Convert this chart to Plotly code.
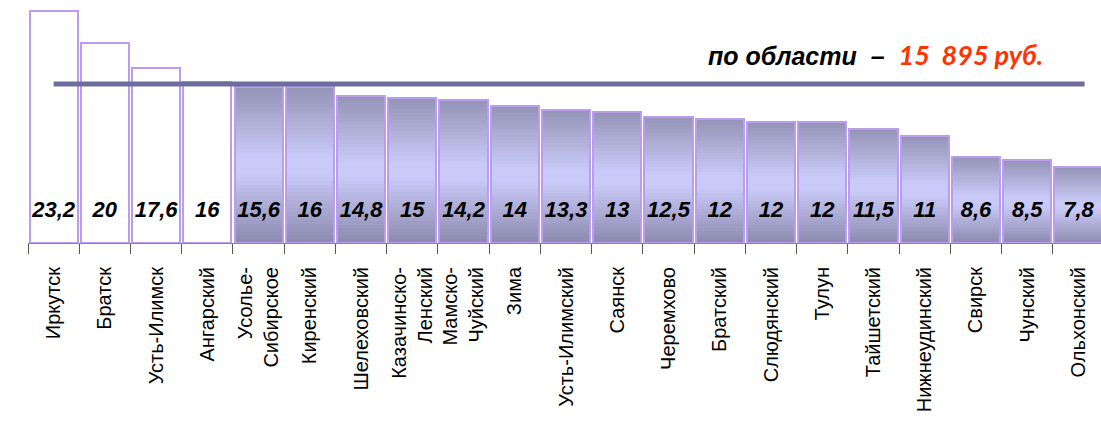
import plotly.graph_objects as go

categories = ["Иркутск", "Братск", "Усть-Илимск", "Ангарский", "Усолье-<br>Сибирское",
              "Киренский", "Шелеховский", "Казачинско-<br>Ленский", "Мамско-<br>Чуйский", "Зима",
              "Усть-Илимский", "Саянск", "Черемхово", "Братский", "Слюдянский", "Тулун",
              "Тайшетский", "Нижнеудинский", "Свирск", "Чунский", "Ольхонский"]
values = [23.2, 20.0, 17.5, 16.1, 15.6, 15.6, 14.7, 14.5, 14.3, 13.7, 13.3, 13.1,
          12.6, 12.4, 12.1, 12.1, 11.4, 10.7, 8.6, 8.3, 7.6]
labels = ["23,2", "20", "17,6", "16", "15,6", "16", "14,8", "15", "14,2", "14", "13,3",
          "13", "12,5", "12", "12", "12", "11,5", "11", "8,6", "8,5", "7,8"]
white_count = 4
region_avg = 15.895

W = 0.94
N = 40

def lerp(c1, c2, t):
    return tuple(int(round(a + (b - a) * t)) for a, b in zip(c1, c2))

stops = [(0.0, (0x8a, 0x8a, 0xae)), (0.45, (0xca, 0xca, 0xf8)), (0.55, (0xca, 0xca, 0xf8)),
         (1.0, (0x93, 0x93, 0xb6))]

def cscale(t):
    for (t0, c0), (t1, c1) in zip(stops[:-1], stops[1:]):
        if t0 <= t <= t1:
            return "rgb(%d,%d,%d)" % lerp(c0, c1, (t - t0) / (t1 - t0) if t1 > t0 else 0)
    return "rgb(%d,%d,%d)" % stops[-1][1]

fig = go.Figure()
gx = categories[white_count:]
gv = values[white_count:]
for k in range(N):
    fig.add_trace(go.Bar(
        x=gx, y=[v / N * 1.05 for v in gv], base=[v * k / N for v in gv],
        width=W, marker=dict(color=cscale((k + 0.5) / N), line=dict(width=0)),
        hoverinfo="skip", showlegend=False))

fills = ["white"] * white_count + ["rgba(0,0,0,0)"] * (len(values) - white_count)
fig.add_trace(go.Bar(
    x=categories, y=values, width=W,
    marker=dict(color=fills, line=dict(color="#bc9cec", width=2)),
    showlegend=False))

fig.add_trace(go.Scatter(
    x=categories, y=[3.2] * len(values), mode="text",
    text=["<b><i>%s</i></b>" % s for s in labels],
    textfont=dict(family="Liberation Sans", size=22, color="black"),
    textposition="middle center", showlegend=False, hoverinfo="skip"))

fig.add_shape(type="line", xref="x", yref="y", x0=0, x1=20.12, y0=region_avg, y1=region_avg,
              line=dict(color="#6c6c9e", width=5), layer="above")

nb = "\u00a0"
fig.add_annotation(
    xref="paper", yref="paper", x=0.632, y=0.775, xanchor="left", yanchor="middle",
    showarrow=False,
    text=("<b><i>по области" + nb * 2 + "–" + nb * 2 +
          "<span style='color:#ff3300;font-family:Lato;font-size:27px'>15" + nb * 2 +
          "895 руб.</span></i></b>"),
    font=dict(family="Liberation Sans", size=25, color="black"))

fig.update_layout(
    width=1101, height=422, barmode="overlay", bargap=0,
    margin=dict(l=28, r=0, t=0, b=179, autoexpand=False),
    paper_bgcolor="white", plot_bgcolor="white",
    xaxis=dict(type="category", categoryorder="array", categoryarray=categories,
               range=[-0.5, 20.44], tickson="boundaries", ticks="outside",
               ticklen=10, tickcolor="#555555", tickwidth=1, showline=True,
               linecolor="#888888", linewidth=1, tickangle=-90, ticklabelstandoff=15,
               automargin=False,
               tickfont=dict(family="Liberation Sans", size=20, color="black"),
               showgrid=False, zeroline=False),
    yaxis=dict(range=[0, 24.3], visible=False, showgrid=False, zeroline=False,
               automargin=False),
)

fig.write_html("out.html", config={"displayModeBar": False},
               post_script="document.body.style.margin='0';document.body.style.overflow='hidden';")
